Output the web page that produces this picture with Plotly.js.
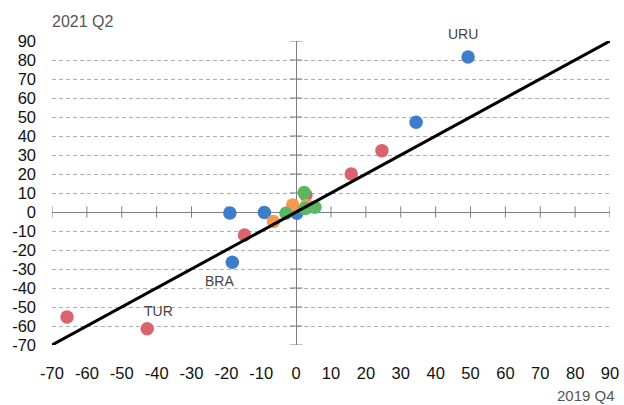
<!DOCTYPE html>
<html>
<head>
<meta charset="utf-8">
<script src="https://cdn.plot.ly/plotly-3.0.1.min.js"></script>
<style>html,body{margin:0;padding:0;background:#fff;}#chart{width:624px;height:405px;}</style>
</head>
<body>
<div id="chart"></div>
<script>
// Tick values for both axes
const tickValues = [-70, -60, -50, -40, -30, -20, -10, 0, 10, 20, 30, 40, 50, 60, 70, 80, 90];

// Series: x = 2019 Q4, y = 2021 Q2
const blueX = [49.3, 34.4, -19.0, -9.1, -18.3, 0.2];
const blueY = [81.6, 47.2, -0.5, -0.3, -26.5, -0.7];
const redX = [-65.7, -42.7, -14.8, 15.8, 24.6, 2.8];
const redY = [-55.3, -61.4, -12.1, 20.0, 32.3, 9.0];
const orangeX = [-6.5, -1.0, 3.0];
const orangeY = [-5.0, 3.7, 3.5];
const greenX = [-2.9, 2.3, 2.6, 5.4];
const greenY = [-0.7, 10.2, 1.9, 2.5];

// 45-degree reference line
const refLineX = [-70, 90];
const refLineY = [-70, 90];

// Labelled points
const labelNames = ['URU', 'BRA', 'TUR'];
const labelX = [blueX[0], blueX[4], redX[1]];
const labelY = [blueY[0], blueY[4], redY[1]];

const font = 'Liberation Sans, Arial, Helvetica, sans-serif';
const zeros = tickValues.map(() => 0);

function dots(x, y, color) {
  return {type: 'scatter', mode: 'markers', x: x, y: y, hoverinfo: 'skip',
    marker: {size: 13.5, color: color, line: {width: 0}}, showlegend: false};
}

const traces = [
  {type: 'scatter', mode: 'markers', x: tickValues, y: zeros, hoverinfo: 'skip', showlegend: false,
    marker: {symbol: 'line-ns', size: 8, line: {width: 1, color: '#7f7f7f'}}},
  {type: 'scatter', mode: 'markers', x: zeros, y: tickValues, hoverinfo: 'skip', showlegend: false,
    marker: {symbol: 'line-ew', size: 9, line: {width: 1, color: '#7f7f7f'}}},
  dots(blueX, blueY, '#3D7DC9'),
  dots(redX, redY, '#D9636F'),
  dots(orangeX, orangeY, '#F39A50'),
  dots(greenX, greenY, '#5CB860'),
  {type: 'scatter', mode: 'lines', x: refLineX, y: refLineY, hoverinfo: 'skip', showlegend: false,
    line: {color: '#000000', width: 3}}
];

const labelShift = {URU: [-5, 23], BRA: [-13, -19], TUR: [11, 18]};

const annotations = labelNames.map((n, i) => ({
  x: labelX[i], y: labelY[i], xref: 'x', yref: 'y', text: n, showarrow: false,
  xanchor: 'center', yanchor: 'middle', xshift: labelShift[n][0], yshift: labelShift[n][1],
  font: {family: font, size: 14, color: '#444444'}
}));
annotations.push({
  text: '2021 Q2', xref: 'paper', yref: 'paper', x: 0, y: 1, xanchor: 'left', yanchor: 'middle',
  xshift: -2, yshift: 20, showarrow: false, font: {family: font, size: 16, color: '#555555'}
});
annotations.push({
  text: '2019 Q4', xref: 'paper', yref: 'paper', x: 1, y: 0, xanchor: 'right', yanchor: 'middle',
  xshift: 7, yshift: -50, showarrow: false, font: {family: font, size: 15, color: '#555555'}
});

const layout = {
  width: 624, height: 405,
  margin: {l: 52, r: 14, t: 41, b: 60, pad: 0},
  paper_bgcolor: '#ffffff', plot_bgcolor: '#ffffff',
  showlegend: false,
  xaxis: {
    range: [-70, 90], tickmode: 'array', tickvals: tickValues, ticktext: tickValues.map(String),
    showgrid: false, zeroline: true, zerolinecolor: '#7f7f7f', zerolinewidth: 1,
    showline: false, ticks: '', ticklabelstandoff: 16,
    tickfont: {family: font, size: 16.5, color: '#111111'}
  },
  yaxis: {
    range: [-70, 90], tickmode: 'array', tickvals: tickValues, ticktext: tickValues.map(String),
    showgrid: true, gridcolor: '#b0b0b0', gridwidth: 1, griddash: '4px,3px',
    zeroline: true, zerolinecolor: '#7f7f7f', zerolinewidth: 1,
    showline: false, ticks: '', ticklabelstandoff: 15,
    tickfont: {family: font, size: 16.5, color: '#111111'}
  },
  annotations: annotations
};

Plotly.newPlot('chart', traces, layout, {displayModeBar: false, staticPlot: true});
</script>
</body>
</html>
